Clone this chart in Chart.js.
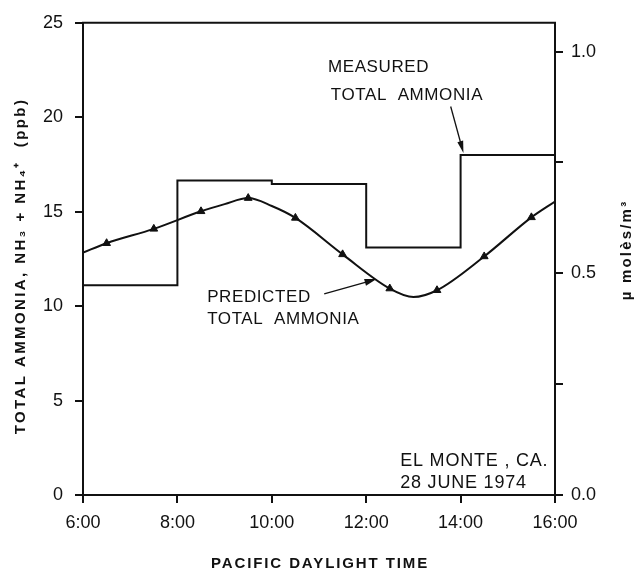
<!DOCTYPE html>
<html>
<head>
    <title>Total Ammonia - El Monte</title>
    <script src="https://cdn.jsdelivr.net/npm/chart.js"></script>
    <style>
        body {
            margin: 0;
            background: #ffffff;
        }
        #wrap {
            width: 643px;
            height: 571px;
        }
    </style>
</head>
<body>
    <div id="wrap">
        <canvas id="nh3-chart" width="643" height="571"></canvas>
    </div>

    <script>
        // measured total ammonia (ppb), value holds until the next time
        const measuredTimes = [6, 8, 10, 12, 14, 16];
        const measuredPpb = [11.1, 16.65, 16.47, 13.1, 18.0, 18.0];

        // predicted total ammonia (ppb)
        const predictedTimes = [6, 6.5, 7.5, 8.5, 9, 9.5, 10, 10.5, 11.5, 12.5, 13, 13.5, 14.5, 15.5, 16];
        const predictedPpb = [12.83, 13.33, 14.09, 15.02, 15.4, 15.72, 15.3, 14.67, 12.74, 10.93, 10.48, 10.84, 12.63, 14.7, 15.54];
        // points that carry a triangle
        const predictedMarked = [0, 1, 1, 1, 0, 1, 0, 1, 1, 1, 0, 1, 1, 1, 0];

        const timeTicks = [6, 8, 10, 12, 14, 16];
        const ppbTicks = [0, 5, 10, 15, 20, 25];
        const molTicks = [0, 0.25, 0.5, 0.75, 1.0];
        const molLabels = ['0.0', '', '0.5', '', '1.0'];

        const INK = '#111111';
        const FONT = '"Liberation Sans", Arial, sans-serif';

        function arrow(ctx, x1, y1, x2, y2, len, half) {
            const a = Math.atan2(y2 - y1, x2 - x1);
            ctx.beginPath();
            ctx.moveTo(x1, y1);
            ctx.lineTo(x2 - Math.cos(a) * len * 0.6, y2 - Math.sin(a) * len * 0.6);
            ctx.stroke();
            ctx.beginPath();
            ctx.moveTo(x2, y2);
            ctx.lineTo(x2 - Math.cos(a) * len - Math.sin(a) * half, y2 - Math.sin(a) * len + Math.cos(a) * half);
            ctx.lineTo(x2 - Math.cos(a) * len + Math.sin(a) * half, y2 - Math.sin(a) * len - Math.cos(a) * half);
            ctx.closePath();
            ctx.fill();
        }

        const notesPlugin = {
            id: 'notes',
            afterDraw(chart) {
                const c = chart.ctx;
                const area = chart.chartArea;
                const sx = chart.scales.x;
                const sy = chart.scales.y;
                const px = t => sx.getPixelForValue(t);
                const py = v => sy.getPixelForValue(v);

                c.save();
                c.strokeStyle = INK;
                c.fillStyle = INK;

                // top of the frame
                c.lineWidth = 2;
                c.beginPath();
                c.moveTo(area.left - 1, area.top);
                c.lineTo(area.right + 1, area.top);
                c.stroke();

                // notes inside the plot
                c.textAlign = 'left';
                c.textBaseline = 'alphabetic';
                c.font = '17px ' + FONT;
                c.letterSpacing = '0.6px';
                c.fillText('MEASURED', px(11.19), py(22.39));
                c.fillText('TOTAL  AMMONIA', px(11.25), py(20.89));
                c.fillText('PREDICTED', px(8.63), py(10.21));
                c.fillText('TOTAL  AMMONIA', px(8.63), py(9.06));
                c.font = '18px ' + FONT;
                c.letterSpacing = '0.8px';
                c.fillText('EL MONTE , CA.', px(12.72), py(1.53));
                c.fillText('28 JUNE 1974', px(12.72), py(0.385));

                // arrows
                c.lineWidth = 1.3;
                arrow(c, px(13.79), py(20.57), px(14.06), py(18.11), 12, 3);
                arrow(c, px(11.11), py(10.65), px(12.22), py(11.43), 12, 3.5);

                // axis titles
                c.font = 'bold 15px ' + FONT;
                c.letterSpacing = '1.9px';
                c.textAlign = 'center';
                c.fillText('PACIFIC DAYLIGHT TIME', 320, 568);

                c.save();
                c.translate(21, 266);
                c.rotate(-Math.PI / 2);
                c.textBaseline = 'middle';
                c.letterSpacing = '2.4px';
                c.fillText('TOTAL AMMONIA, NH\u2083 + NH\u2084\u207A  (ppb)', 0, 0);
                c.restore();

                c.save();
                c.translate(627, 250);
                c.rotate(-Math.PI / 2);
                c.textBaseline = 'middle';
                c.letterSpacing = '2.2px';
                c.fillText('\u00B5 mol\u00E8s/m\u00B3', 0, 0);
                c.restore();

                c.restore();
            }
        };

        const tickFont = { family: FONT, size: 18 };

        const ctx = document.getElementById('nh3-chart').getContext('2d');
        new Chart(ctx, {
            type: 'line',
            data: {
                datasets: [{
                    label: 'Measured total ammonia',
                    data: measuredTimes.map((t, i) => ({ x: t, y: measuredPpb[i] })),
                    stepped: 'before',
                    borderColor: INK,
                    borderWidth: 2,
                    pointRadius: 0,
                    fill: false,
                    yAxisID: 'y'
                }, {
                    label: 'Predicted total ammonia',
                    data: predictedTimes.map((t, i) => ({ x: t, y: predictedPpb[i] })),
                    cubicInterpolationMode: 'monotone',
                    borderColor: INK,
                    borderWidth: 2,
                    pointStyle: 'triangle',
                    pointRadius: predictedMarked.map(m => m ? 4.5 : 0),
                    pointBackgroundColor: INK,
                    pointBorderColor: INK,
                    pointBorderWidth: 1,
                    fill: false,
                    yAxisID: 'y'
                }]
            },
            options: {
                responsive: false,
                animation: false,
                events: [],
                layout: { padding: { top: 21, left: 0, right: 0, bottom: 0 } },
                plugins: {
                    legend: { display: false },
                    tooltip: { enabled: false }
                },
                scales: {
                    x: {
                        type: 'linear',
                        min: 6,
                        max: 16,
                        afterBuildTicks: s => { s.ticks = timeTicks.map(v => ({ value: v })); },
                        afterFit: s => { s.height = 76; },
                        ticks: {
                            callback: v => v + ':00',
                            color: INK,
                            font: tickFont,
                            padding: 9,
                            maxRotation: 0,
                            autoSkip: false
                        },
                        grid: { drawOnChartArea: false, tickLength: 8, color: INK, lineWidth: 2 },
                        border: { color: INK, width: 2 }
                    },
                    y: {
                        position: 'left',
                        min: 0,
                        max: 25,
                        afterBuildTicks: s => { s.ticks = ppbTicks.map(v => ({ value: v })); },
                        afterFit: s => { s.width = 83; },
                        ticks: { color: INK, font: tickFont, padding: 12 },
                        grid: { drawOnChartArea: false, tickLength: 8, color: INK, lineWidth: 2 },
                        border: { color: INK, width: 2 }
                    },
                    y2: {
                        position: 'right',
                        min: 0,
                        max: 1.065,
                        afterBuildTicks: s => { s.ticks = molTicks.map(v => ({ value: v })); },
                        afterFit: s => { s.width = 88; },
                        ticks: {
                            callback: v => molLabels[molTicks.indexOf(v)],
                            color: INK,
                            font: tickFont,
                            padding: 8
                        },
                        grid: { drawOnChartArea: false, tickLength: 8, color: INK, lineWidth: 2 },
                        border: { color: INK, width: 2 }
                    }
                }
            },
            plugins: [notesPlugin]
        });
    </script>
</body>
</html>
